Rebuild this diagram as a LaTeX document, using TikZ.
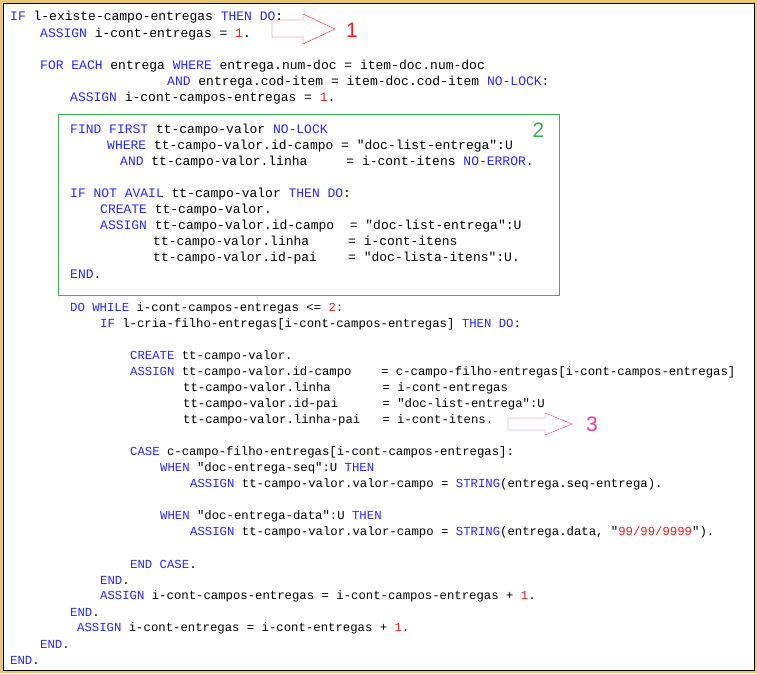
\documentclass[tikz,border=0pt]{standalone}
\usepackage{fontspec}
\setmonofont{Liberation Mono}
\setsansfont{Liberation Sans}
\usetikzlibrary{positioning}
\definecolor{kwblue}{RGB}{40,40,255}
\definecolor{numred}{RGB}{235,30,30}
\definecolor{boxgreen}{RGB}{60,180,80}
\definecolor{arrpink}{RGB}{235,60,150}
\definecolor{frameyel}{RGB}{235,200,110}
\newcommand{\kw}[1]{\textcolor{kwblue}{#1}}
\newcommand{\nm}[1]{\textcolor{numred}{#1}}
\begin{document}
\begin{tikzpicture}[x=1pt,y=-1pt,
	code/.style={anchor=west, inner sep=0, font=\ttfamily\fontsize{13}{13}\selectfont},
	codeb/.style={anchor=west, inner sep=0, font=\ttfamily\fontsize{12.3}{12.3}\selectfont},
	tag/.style={font=\sffamily\fontsize{21}{21}\selectfont}]
\useasboundingbox (0,0) rectangle (757,673);
\fill[frameyel] (0,0) rectangle (757,673);
\draw[fill=white, thick] (3,3) rectangle (754,670);

\node[code] (l1) at (10,17) {\kw{IF} l-existe-campo-entregas \kw{THEN} \kw{DO}:};
\node[code] (l2) at (40,34) {\kw{ASSIGN} i-cont-entregas = \nm{1}.};
\node[code] (l3) at (40,66) {\kw{FOR} \kw{EACH} entrega \kw{WHERE} entrega.num-doc = item-doc.num-doc};
\node[code] (l4) at (167,82) {\kw{AND} entrega.cod-item = item-doc.cod-item \kw{NO-LOCK}:};
\node[code] (l5) at (70,98) {\kw{ASSIGN} i-cont-campos-entregas = \nm{1}.};

% bloco 2
\node[draw=boxgreen, thick, minimum width=501pt, minimum height=181pt, anchor=north west] (box) at (58,114) {};
\node[tag, text=boxgreen, below left = 5pt and 12pt of box.north east] (t2) {2};
\node[code] (b1) at (70,130) {\kw{FIND} \kw{FIRST} tt-campo-valor \kw{NO-LOCK}};
\node[code] (b2) at (107,146) {\kw{WHERE} tt-campo-valor.id-campo = "doc-list-entrega":U};
\node[code] (b3) at (120,162) {\kw{AND} tt-campo-valor.linha~~~~~= i-cont-itens \kw{NO-ERROR}.};
\node[code] (b4) at (70,194) {\kw{IF} \kw{NOT} \kw{AVAIL} tt-campo-valor \kw{THEN} \kw{DO}:};
\node[code] (b5) at (100,210) {\kw{CREATE} tt-campo-valor.};
\node[code] (b6) at (100,226) {\kw{ASSIGN} tt-campo-valor.id-campo~~= "doc-list-entrega":U};
\node[code] (b7) at (153,242) {tt-campo-valor.linha~~~~~= i-cont-itens};
\node[code] (b8) at (153,258) {tt-campo-valor.id-pai~~~~= "doc-lista-itens":U.};
\node[code] (b9) at (70,274) {\kw{END}.};

\node[codeb] (c1) at (70,308) {\kw{DO} \kw{WHILE} i-cont-campos-entregas <= \nm{2}:};
\node[codeb] (c2) at (100,324) {\kw{IF} l-cria-filho-entregas[i-cont-campos-entregas] \kw{THEN} \kw{DO}:};
\node[codeb] (c3) at (130,356) {\kw{CREATE} tt-campo-valor.};
\node[codeb] (c4) at (130,372) {\kw{ASSIGN} tt-campo-valor.id-campo~~~~= c-campo-filho-entregas[i-cont-campos-entregas]};
\node[codeb] (c5) at (183,388) {tt-campo-valor.linha~~~~~~~= i-cont-entregas};
\node[codeb] (c6) at (183,404) {tt-campo-valor.id-pai~~~~~~= "doc-list-entrega":U};
\node[codeb] (c7) at (183,420) {tt-campo-valor.linha-pai~~~= i-cont-itens.};
\node[codeb] (c8) at (130,452) {\kw{CASE} c-campo-filho-entregas[i-cont-campos-entregas]:};
\node[codeb] (c9) at (160,468) {\kw{WHEN} "doc-entrega-seq":U \kw{THEN}};
\node[codeb] (c10) at (190,484) {\kw{ASSIGN} tt-campo-valor.valor-campo = \kw{STRING}(entrega.seq-entrega).};
\node[codeb] (c11) at (160,516) {\kw{WHEN} "doc-entrega-data":U \kw{THEN}};
\node[codeb] (c12) at (190,532) {\kw{ASSIGN} tt-campo-valor.valor-campo = \kw{STRING}(entrega.data, "\nm{99/99/9999}").};
\node[codeb] (c13) at (130,564) {\kw{END} \kw{CASE}.};
\node[codeb] (c14) at (100,580) {\kw{END}.};
\node[codeb] (c15) at (100,596) {\kw{ASSIGN} i-cont-campos-entregas = i-cont-campos-entregas + \nm{1}.};
\node[codeb] (c16) at (70,612) {\kw{END}.};
\node[codeb] (c17) at (77,628) {\kw{ASSIGN} i-cont-entregas = i-cont-entregas + \nm{1}.};
\node[codeb] (c18) at (40,644) {\kw{END}.};
\node[codeb] (c19) at (10,660) {\kw{END}.};

% setas 1 e 3
\draw[numred, fill=white] (272,20) -- (303,20) -- (303,14) -- (335,29) -- (303,44) -- (303,37) -- (272,37) -- cycle;
\node[tag, text=numred] (t1) at (352,30) {1};
\draw[arrpink, fill=white] (508,418) -- (545,418) -- (545,413) -- (572,424) -- (545,435) -- (545,430) -- (508,430) -- cycle;
\node[tag, text=arrpink] (t3) at (592,424) {3};
\end{tikzpicture}
\end{document}
